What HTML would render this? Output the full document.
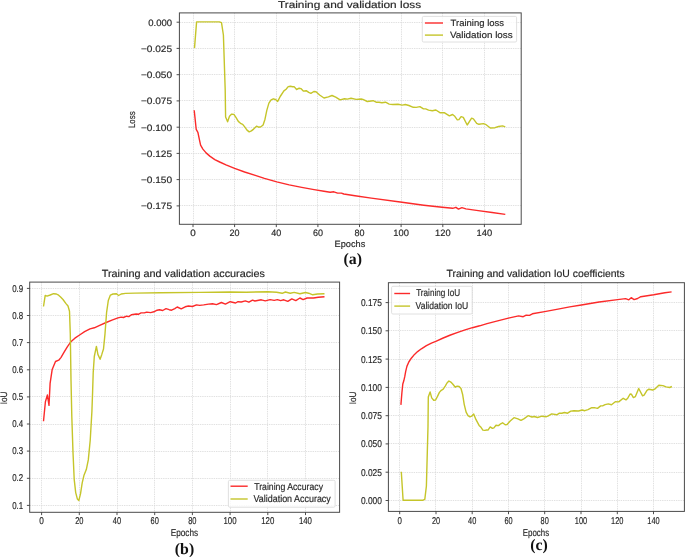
<!DOCTYPE html>
<html><head><meta charset="utf-8"><title>Training curves</title>
<style>html,body{margin:0;padding:0;background:#fff;overflow:hidden}svg{display:block;will-change:transform}text{font-family:"Liberation Sans",sans-serif;stroke:#2a2a2a;stroke-width:0.17px;text-rendering:geometricPrecision}text.cap{font-family:"Liberation Serif",serif;stroke:none}</style></head>
<body>
<svg width="685" height="557" viewBox="0 0 685 557">
<rect width="685" height="557" fill="#fff"/>
<path d="M193.5,12.9V224.3M234.5,12.9V224.3M276.5,12.9V224.3M317.5,12.9V224.3M359.5,12.9V224.3M401.5,12.9V224.3M442.5,12.9V224.3M484.5,12.9V224.3M179.4,22.5H521.2M179.4,48.5H521.2M179.4,74.5H521.2M179.4,100.5H521.2M179.4,127.5H521.2M179.4,153.5H521.2M179.4,179.5H521.2M179.4,205.5H521.2" stroke="#d9d9d9" stroke-width="0.8" stroke-dasharray="1.4 0.9" fill="none"/>
<polyline points="194.2,110.3 196.2,129.3 197.9,132.3 199.4,139.7 200.6,145.2 202.9,149.1 206.1,152.9 209.8,156.1 214.8,159.6 219.7,162.0 226.0,164.8 234.6,168.3 244.6,172.0 254.5,175.2 264.4,178.4 276.8,181.9 289.2,184.9 301.7,187.4 314.1,189.6 324.0,191.3 330.2,192.3 333.9,191.8 337.6,193.1 341.4,193.1 343.8,194.0 355.0,195.8 371.3,198.1 400.2,202.0 423.8,205.2 442.2,207.3 452.7,208.3 455.9,207.3 458.5,209.1 461.9,207.6 465.9,208.9 476.4,210.4 492.1,212.5 505.3,214.4" fill="none" stroke="#fb2a2a" stroke-width="1.4" stroke-linejoin="round" stroke-linecap="butt"/>
<polyline points="194.5,48.1 196.6,21.9 219.4,21.9 221.5,22.6 223.4,35.0 225.2,90.0 225.6,117.0 227.6,121.8 229.5,116.3 231.7,114.1 233.9,114.4 236.1,117.7 238.3,121.4 240.5,123.3 242.7,124.3 244.9,127.2 247.0,130.1 249.2,131.9 251.4,130.9 253.6,129.1 256.5,126.2 258.7,127.2 260.9,126.8 263.1,125.0 265.0,119.2 266.8,110.4 268.9,103.1 271.1,99.9 273.3,98.8 275.5,99.5 277.7,101.4 280.2,96.5 283.9,90.9 286.1,89.2 288.2,86.6 290.4,86.3 292.6,86.7 294.1,86.6 296.6,89.5 299.2,88.2 300.9,88.6 303.3,91.1 306.2,90.7 308.7,92.4 310.9,93.3 313.8,91.5 316.0,91.8 319.6,95.0 324.0,98.0 328.4,96.9 332.0,95.5 335.7,97.2 340.1,99.9 344.5,98.7 347.4,99.1 351.0,98.2 356.1,99.4 361.2,99.0 362.9,99.4 367.3,101.5 373.1,100.7 376.1,102.2 379.0,102.2 381.9,102.8 385.5,102.2 389.2,104.1 392.8,104.5 398.0,104.2 402.3,105.1 405.3,104.5 408.9,105.5 413.3,107.3 416.2,107.4 419.9,106.6 423.5,108.9 425.7,108.9 428.6,110.1 432.3,110.8 435.9,110.0 440.3,112.8 444.2,112.6 449.4,115.9 452.6,114.5 454.8,116.3 457.3,119.9 458.9,119.6 461.1,116.6 463.3,117.4 467.2,125.0 471.6,118.2 473.4,118.8 476.7,123.3 478.9,124.3 483.3,123.6 485.5,124.3 490.3,128.0 495.0,127.7 498.6,126.5 502.6,125.9 505.3,126.8" fill="none" stroke="#c5c52a" stroke-width="1.4" stroke-linejoin="round" stroke-linecap="butt"/>
<rect x="179.4" y="12.9" width="341.8" height="211.4" fill="none" stroke="#4a4a4a" stroke-width="1"/>
<path d="M193.0,224.3v2.8M234.6,224.3v2.8M276.3,224.3v2.8M317.9,224.3v2.8M359.5,224.3v2.8M401.1,224.3v2.8M442.8,224.3v2.8M484.4,224.3v2.8M179.4,22.2h-2.8M179.4,48.4h-2.8M179.4,74.7h-2.8M179.4,100.9h-2.8M179.4,127.2h-2.8M179.4,153.4h-2.8M179.4,179.6h-2.8M179.4,205.9h-2.8" stroke="#3a3a3a" stroke-width="0.9" fill="none"/>
<text x="190.2" y="236.2" font-size="9.2" text-anchor="start" fill="#262626" textLength="5.5" lengthAdjust="spacingAndGlyphs">0</text>
<text x="229.6" y="236.2" font-size="9.2" text-anchor="start" fill="#262626" textLength="10.0" lengthAdjust="spacingAndGlyphs">20</text>
<text x="271.3" y="236.2" font-size="9.2" text-anchor="start" fill="#262626" textLength="10.0" lengthAdjust="spacingAndGlyphs">40</text>
<text x="312.9" y="236.2" font-size="9.2" text-anchor="start" fill="#262626" textLength="10.0" lengthAdjust="spacingAndGlyphs">60</text>
<text x="354.5" y="236.2" font-size="9.2" text-anchor="start" fill="#262626" textLength="10.0" lengthAdjust="spacingAndGlyphs">80</text>
<text x="393.3" y="236.2" font-size="9.2" text-anchor="start" fill="#262626" textLength="15.6" lengthAdjust="spacingAndGlyphs">100</text>
<text x="435.0" y="236.2" font-size="9.2" text-anchor="start" fill="#262626" textLength="15.6" lengthAdjust="spacingAndGlyphs">120</text>
<text x="476.6" y="236.2" font-size="9.2" text-anchor="start" fill="#262626" textLength="15.6" lengthAdjust="spacingAndGlyphs">140</text>
<text x="148.3" y="25.5" font-size="9.2" text-anchor="start" fill="#262626" textLength="23.8" lengthAdjust="spacingAndGlyphs">0.000</text>
<text x="140.9" y="51.8" font-size="9.2" text-anchor="start" fill="#262626" textLength="31.2" lengthAdjust="spacingAndGlyphs">−0.025</text>
<text x="140.9" y="78.0" font-size="9.2" text-anchor="start" fill="#262626" textLength="31.2" lengthAdjust="spacingAndGlyphs">−0.050</text>
<text x="140.9" y="104.3" font-size="9.2" text-anchor="start" fill="#262626" textLength="31.2" lengthAdjust="spacingAndGlyphs">−0.075</text>
<text x="140.9" y="130.5" font-size="9.2" text-anchor="start" fill="#262626" textLength="31.2" lengthAdjust="spacingAndGlyphs">−0.100</text>
<text x="140.9" y="156.7" font-size="9.2" text-anchor="start" fill="#262626" textLength="31.2" lengthAdjust="spacingAndGlyphs">−0.125</text>
<text x="140.9" y="183.0" font-size="9.2" text-anchor="start" fill="#262626" textLength="31.2" lengthAdjust="spacingAndGlyphs">−0.150</text>
<text x="140.9" y="209.2" font-size="9.2" text-anchor="start" fill="#262626" textLength="31.2" lengthAdjust="spacingAndGlyphs">−0.175</text>
<text x="277.9" y="7.9" font-size="9.9" text-anchor="start" fill="#262626" textLength="143.2" lengthAdjust="spacingAndGlyphs">Training and validation loss</text>
<text x="334.6" y="247.1" font-size="9.2" text-anchor="start" fill="#262626" textLength="30.7" lengthAdjust="spacingAndGlyphs">Epochs</text>
<text transform="translate(135.1,119.7) rotate(-90)" font-size="9.3" text-anchor="middle" fill="#262626" textLength="16.6" lengthAdjust="spacingAndGlyphs">Loss</text>
<rect x="422.3" y="16.4" width="94.3" height="25.6" rx="1.3" fill="#fff" fill-opacity="0.8" stroke="#d8d8d8" stroke-width="0.8"/>
<path d="M424.9,23H443" stroke="#fb2a2a" stroke-width="1.4"/>
<path d="M424.9,35.1H443" stroke="#c5c52a" stroke-width="1.4"/>
<text x="450.6" y="25.9" font-size="9.2" text-anchor="start" fill="#262626" textLength="53.4" lengthAdjust="spacingAndGlyphs">Training loss</text>
<text x="449.9" y="38.0" font-size="9.2" text-anchor="start" fill="#262626" textLength="62.8" lengthAdjust="spacingAndGlyphs">Validation loss</text>
<text x="352.8" y="264.3" class="cap" font-weight="bold" font-size="15.8" text-anchor="middle" fill="#111">(a)</text>
<path d="M41.5,282.1V512.3M79.5,282.1V512.3M117.5,282.1V512.3M154.5,282.1V512.3M192.5,282.1V512.3M230.5,282.1V512.3M267.5,282.1V512.3M305.5,282.1V512.3M29.7,505.5H339.6M29.7,478.5H339.6M29.7,451.5H339.6M29.7,424.5H339.6M29.7,396.5H339.6M29.7,369.5H339.6M29.7,342.5H339.6M29.7,315.5H339.6M29.7,288.5H339.6" stroke="#d9d9d9" stroke-width="0.8" stroke-dasharray="1.4 0.9" fill="none"/>
<polyline points="43.5,421.2 45.4,401.8 47.4,395.0 49.0,405.4 50.1,383.4 52.2,369.4 55.5,361.5 58.7,360.2 60.9,357.6 64.1,352.2 67.3,346.8 70.6,342.1 74.9,338.2 79.6,335.0 84.6,331.7 90.0,328.9 94.3,327.8 99.7,325.3 106.1,322.5 112.6,319.9 118.0,317.9 121.2,317.1 123.4,317.5 126.6,316.2 128.8,316.6 131.4,314.7 136.2,314.0 138.7,314.2 141.1,312.9 144.3,312.9 146.7,312.1 150.7,312.6 153.9,311.8 157.1,310.2 159.5,309.7 162.7,310.5 166.0,308.6 169.2,309.7 171.6,310.2 174.8,308.6 177.2,307.0 181.2,308.9 185.2,306.8 188.4,306.0 192.4,306.5 196.5,304.9 199.7,305.4 203.7,304.9 208.5,304.1 212.5,303.8 216.5,304.6 221.4,302.5 225.4,304.1 230.2,301.7 235.6,303.0 238.0,301.7 241.2,302.0 245.3,300.9 248.9,302.2 252.5,300.1 254.9,301.0 261.3,299.8 265.3,300.9 270.1,299.6 274.2,300.4 277.4,299.6 280.6,300.6 283.8,299.8 287.8,301.4 291.8,298.9 295.8,300.6 299.9,298.0 303.1,299.6 307.1,298.0 313.5,298.0 318.3,297.3 324.5,296.7" fill="none" stroke="#fb2a2a" stroke-width="1.4" stroke-linejoin="round" stroke-linecap="butt"/>
<polyline points="43.5,306.5 45.2,295.4 47.0,296.1 50.2,295.0 53.6,293.7 56.4,294.0 58.6,295.2 60.6,297.0 63.0,299.5 65.8,303.4 68.0,306.0 69.5,311.2 70.3,334.0 71.0,380.0 71.8,416.3 73.0,452.6 74.2,479.3 75.7,492.6 77.4,499.1 78.8,500.6 80.5,493.8 82.2,482.9 83.9,475.6 86.3,469.6 88.3,459.9 90.2,440.5 91.9,411.5 92.6,392.0 93.2,372.7 94.3,356.5 96.4,346.4 97.9,354.4 100.1,359.3 101.8,354.4 103.5,349.0 105.0,333.9 106.6,312.3 108.3,300.5 110.4,295.1 113.0,294.0 116.5,293.8 118.6,295.5 121.2,294.0 125.5,293.4 135.0,293.1 160.0,292.8 200.0,292.4 230.0,292.0 246.1,292.2 267.7,291.7 276.6,292.2 282.2,293.3 285.4,292.0 290.2,293.2 294.2,292.4 299.9,293.8 305.5,292.5 308.7,293.2 312.7,294.8 317.5,294.0 324.5,293.7" fill="none" stroke="#c5c52a" stroke-width="1.4" stroke-linejoin="round" stroke-linecap="butt"/>
<rect x="29.7" y="282.1" width="309.9" height="230.2" fill="none" stroke="#4a4a4a" stroke-width="1"/>
<path d="M41.6,512.3v2.8M79.3,512.3v2.8M117.0,512.3v2.8M154.7,512.3v2.8M192.4,512.3v2.8M230.1,512.3v2.8M267.8,512.3v2.8M305.5,512.3v2.8M29.7,505.4h-2.8M29.7,478.3h-2.8M29.7,451.1h-2.8M29.7,424.0h-2.8M29.7,396.9h-2.8M29.7,369.8h-2.8M29.7,342.6h-2.8M29.7,315.5h-2.8M29.7,288.4h-2.8" stroke="#3a3a3a" stroke-width="0.9" fill="none"/>
<text x="39.3" y="524.1" font-size="9.9" text-anchor="start" fill="#262626" textLength="4.6" lengthAdjust="spacingAndGlyphs">0</text>
<text x="75.2" y="524.1" font-size="9.9" text-anchor="start" fill="#262626" textLength="8.3" lengthAdjust="spacingAndGlyphs">20</text>
<text x="112.8" y="524.1" font-size="9.9" text-anchor="start" fill="#262626" textLength="8.3" lengthAdjust="spacingAndGlyphs">40</text>
<text x="150.5" y="524.1" font-size="9.9" text-anchor="start" fill="#262626" textLength="8.3" lengthAdjust="spacingAndGlyphs">60</text>
<text x="188.2" y="524.1" font-size="9.9" text-anchor="start" fill="#262626" textLength="8.3" lengthAdjust="spacingAndGlyphs">80</text>
<text x="223.5" y="524.1" font-size="9.9" text-anchor="start" fill="#262626" textLength="13.1" lengthAdjust="spacingAndGlyphs">100</text>
<text x="261.2" y="524.1" font-size="9.9" text-anchor="start" fill="#262626" textLength="13.1" lengthAdjust="spacingAndGlyphs">120</text>
<text x="298.9" y="524.1" font-size="9.9" text-anchor="start" fill="#262626" textLength="13.1" lengthAdjust="spacingAndGlyphs">140</text>
<text x="12.2" y="508.5" font-size="9.9" text-anchor="start" fill="#262626" textLength="11.0" lengthAdjust="spacingAndGlyphs">0.1</text>
<text x="12.2" y="481.4" font-size="9.9" text-anchor="start" fill="#262626" textLength="11.0" lengthAdjust="spacingAndGlyphs">0.2</text>
<text x="12.2" y="454.2" font-size="9.9" text-anchor="start" fill="#262626" textLength="11.0" lengthAdjust="spacingAndGlyphs">0.3</text>
<text x="12.2" y="427.1" font-size="9.9" text-anchor="start" fill="#262626" textLength="11.0" lengthAdjust="spacingAndGlyphs">0.4</text>
<text x="12.2" y="400.0" font-size="9.9" text-anchor="start" fill="#262626" textLength="11.0" lengthAdjust="spacingAndGlyphs">0.5</text>
<text x="12.2" y="372.9" font-size="9.9" text-anchor="start" fill="#262626" textLength="11.0" lengthAdjust="spacingAndGlyphs">0.6</text>
<text x="12.2" y="345.7" font-size="9.9" text-anchor="start" fill="#262626" textLength="11.0" lengthAdjust="spacingAndGlyphs">0.7</text>
<text x="12.2" y="318.6" font-size="9.9" text-anchor="start" fill="#262626" textLength="11.0" lengthAdjust="spacingAndGlyphs">0.8</text>
<text x="12.2" y="291.5" font-size="9.9" text-anchor="start" fill="#262626" textLength="11.0" lengthAdjust="spacingAndGlyphs">0.9</text>
<text x="101.8" y="276.5" font-size="10.4" text-anchor="start" fill="#262626" textLength="163.1" lengthAdjust="spacingAndGlyphs">Training and validation accuracies</text>
<text x="170.7" y="536.3" font-size="9.9" text-anchor="start" fill="#262626" textLength="27.4" lengthAdjust="spacingAndGlyphs">Epochs</text>
<text transform="translate(6.5,397.9) rotate(-90)" font-size="9.5" text-anchor="middle" fill="#262626" textLength="12.6" lengthAdjust="spacingAndGlyphs">IoU</text>
<rect x="228.4" y="480.3" width="106.7" height="26.9" rx="1.3" fill="#fff" fill-opacity="0.8" stroke="#d8d8d8" stroke-width="0.8"/>
<path d="M230.5,486.2H247.7" stroke="#fb2a2a" stroke-width="1.4"/>
<path d="M230.5,499H247.7" stroke="#c5c52a" stroke-width="1.4"/>
<text x="254.2" y="489.6" font-size="9.9" text-anchor="start" fill="#262626" textLength="68.8" lengthAdjust="spacingAndGlyphs">Training Accuracy</text>
<text x="253.5" y="502.4" font-size="9.9" text-anchor="start" fill="#262626" textLength="77.3" lengthAdjust="spacingAndGlyphs">Validation Accuracy</text>
<text x="184.5" y="554.2" class="cap" font-weight="bold" font-size="15.8" text-anchor="middle" fill="#111">(b)</text>
<path d="M399.5,282.7V511.4M435.5,282.7V511.4M472.5,282.7V511.4M508.5,282.7V511.4M544.5,282.7V511.4M581.5,282.7V511.4M617.5,282.7V511.4M653.5,282.7V511.4M388.4,500.5H684.4M388.4,472.5H684.4M388.4,443.5H684.4M388.4,415.5H684.4M388.4,387.5H684.4M388.4,359.5H684.4M388.4,330.5H684.4M388.4,302.5H684.4" stroke="#d9d9d9" stroke-width="0.8" stroke-dasharray="1.4 0.9" fill="none"/>
<polyline points="400.9,404.9 401.9,392.8 402.8,384.0 403.8,380.8 404.8,376.4 405.7,371.4 406.9,366.4 408.8,362.0 411.3,358.2 414.5,354.4 417.6,351.6 421.4,348.8 426.4,345.7 431.4,343.1 435.8,341.3 443.2,338.0 450.5,335.0 457.8,332.4 465.1,329.9 472.4,327.7 479.7,325.8 487.0,323.6 496.7,321.1 508.4,318.1 518.6,315.9 523.2,316.7 526.2,315.2 529.5,315.4 532.4,313.8 544.6,311.6 558.0,309.1 569.7,306.9 581.4,305.0 599.1,302.0 617.6,299.6 625.6,298.6 628.8,299.8 631.2,297.7 634.1,299.6 637.6,298.5 640.8,296.7 653.7,294.8 664.9,292.8 671.6,291.9" fill="none" stroke="#fb2a2a" stroke-width="1.4" stroke-linejoin="round" stroke-linecap="butt"/>
<polyline points="401.3,471.8 403.1,500.2 423.0,500.2 424.8,499.4 426.4,486.0 428.0,426.4 428.3,397.1 430.1,391.9 431.7,397.9 433.7,400.3 435.6,400.0 437.5,396.4 439.4,392.4 441.3,390.3 443.2,389.2 445.2,386.1 447.0,383.0 448.9,381.0 450.8,382.1 452.7,384.0 455.3,387.2 457.2,386.1 459.1,386.5 461.0,388.5 462.7,394.8 464.2,404.3 466.1,412.2 468.0,415.7 469.9,416.9 471.8,416.1 473.7,414.1 475.9,419.4 479.1,425.4 481.0,427.3 482.9,430.1 484.8,430.4 486.7,430.0 488.0,430.1 490.2,426.9 492.4,428.4 493.9,427.9 496.0,425.2 498.5,425.6 500.7,423.8 502.6,422.8 505.2,424.8 507.1,424.5 510.2,421.0 514.0,417.7 517.9,418.9 521.0,420.4 524.2,418.6 528.1,415.7 531.9,417.0 534.4,416.5 537.5,417.5 542.0,416.2 546.4,416.7 547.9,416.2 551.7,413.9 556.8,414.8 559.4,413.2 561.9,413.2 564.5,412.5 567.6,413.2 570.8,411.1 573.9,410.7 578.5,411.0 582.2,410.0 584.8,410.7 588.0,409.6 591.8,407.7 594.3,407.6 597.5,408.4 600.7,405.9 602.6,405.9 605.1,404.6 608.3,403.9 611.5,404.7 615.3,401.7 618.7,401.9 623.2,398.3 626.0,399.9 627.9,397.9 630.1,394.0 631.5,394.3 633.4,397.6 635.3,396.7 638.7,388.5 642.6,395.8 644.1,395.2 647.0,390.3 648.9,389.2 652.8,390.0 654.7,389.2 658.8,385.2 662.9,385.6 666.1,386.9 669.6,387.5 671.9,386.5" fill="none" stroke="#c5c52a" stroke-width="1.4" stroke-linejoin="round" stroke-linecap="butt"/>
<rect x="388.4" y="282.7" width="296.0" height="228.7" fill="none" stroke="#4a4a4a" stroke-width="1"/>
<path d="M399.7,511.4v2.8M436.0,511.4v2.8M472.2,511.4v2.8M508.5,511.4v2.8M544.7,511.4v2.8M581.0,511.4v2.8M617.3,511.4v2.8M653.5,511.4v2.8M388.4,500.5h-2.8M388.4,472.2h-2.8M388.4,443.9h-2.8M388.4,415.7h-2.8M388.4,387.4h-2.8M388.4,359.1h-2.8M388.4,330.8h-2.8M388.4,302.6h-2.8" stroke="#3a3a3a" stroke-width="0.9" fill="none"/>
<text x="397.5" y="523.5" font-size="9.9" text-anchor="start" fill="#262626" textLength="4.4" lengthAdjust="spacingAndGlyphs">0</text>
<text x="431.9" y="523.5" font-size="9.9" text-anchor="start" fill="#262626" textLength="8.2" lengthAdjust="spacingAndGlyphs">20</text>
<text x="468.1" y="523.5" font-size="9.9" text-anchor="start" fill="#262626" textLength="8.2" lengthAdjust="spacingAndGlyphs">40</text>
<text x="504.4" y="523.5" font-size="9.9" text-anchor="start" fill="#262626" textLength="8.2" lengthAdjust="spacingAndGlyphs">60</text>
<text x="540.6" y="523.5" font-size="9.9" text-anchor="start" fill="#262626" textLength="8.2" lengthAdjust="spacingAndGlyphs">80</text>
<text x="574.8" y="523.5" font-size="9.9" text-anchor="start" fill="#262626" textLength="12.4" lengthAdjust="spacingAndGlyphs">100</text>
<text x="611.1" y="523.5" font-size="9.9" text-anchor="start" fill="#262626" textLength="12.4" lengthAdjust="spacingAndGlyphs">120</text>
<text x="647.3" y="523.5" font-size="9.9" text-anchor="start" fill="#262626" textLength="12.4" lengthAdjust="spacingAndGlyphs">140</text>
<text x="360.9" y="503.9" font-size="9.9" text-anchor="start" fill="#262626" textLength="21.0" lengthAdjust="spacingAndGlyphs">0.000</text>
<text x="360.9" y="475.6" font-size="9.9" text-anchor="start" fill="#262626" textLength="21.0" lengthAdjust="spacingAndGlyphs">0.025</text>
<text x="360.9" y="447.3" font-size="9.9" text-anchor="start" fill="#262626" textLength="21.0" lengthAdjust="spacingAndGlyphs">0.050</text>
<text x="360.9" y="419.1" font-size="9.9" text-anchor="start" fill="#262626" textLength="21.0" lengthAdjust="spacingAndGlyphs">0.075</text>
<text x="360.9" y="390.8" font-size="9.9" text-anchor="start" fill="#262626" textLength="21.0" lengthAdjust="spacingAndGlyphs">0.100</text>
<text x="360.9" y="362.5" font-size="9.9" text-anchor="start" fill="#262626" textLength="21.0" lengthAdjust="spacingAndGlyphs">0.125</text>
<text x="360.9" y="334.2" font-size="9.9" text-anchor="start" fill="#262626" textLength="21.0" lengthAdjust="spacingAndGlyphs">0.150</text>
<text x="360.9" y="306.0" font-size="9.9" text-anchor="start" fill="#262626" textLength="21.0" lengthAdjust="spacingAndGlyphs">0.175</text>
<text x="446.6" y="276.5" font-size="10.4" text-anchor="start" fill="#262626" textLength="178.0" lengthAdjust="spacingAndGlyphs">Training and validation IoU coefficients</text>
<text x="522.8" y="535.7" font-size="9.9" text-anchor="start" fill="#262626" textLength="26.3" lengthAdjust="spacingAndGlyphs">Epochs</text>
<text transform="translate(356.1,398.0) rotate(-90)" font-size="9.5" text-anchor="middle" fill="#262626" textLength="12.6" lengthAdjust="spacingAndGlyphs">IoU</text>
<rect x="391.6" y="286.3" width="80.6" height="27.7" rx="1.3" fill="#fff" fill-opacity="0.8" stroke="#d8d8d8" stroke-width="0.8"/>
<path d="M394.3,293.5H410.1" stroke="#fb2a2a" stroke-width="1.4"/>
<path d="M394.3,306.1H410.1" stroke="#c5c52a" stroke-width="1.4"/>
<text x="416.2" y="296.3" font-size="9.9" text-anchor="start" fill="#262626" textLength="44.0" lengthAdjust="spacingAndGlyphs">Training IoU</text>
<text x="415.6" y="308.9" font-size="9.9" text-anchor="start" fill="#262626" textLength="52.7" lengthAdjust="spacingAndGlyphs">Validation IoU</text>
<text x="539.1" y="550.3" class="cap" font-weight="bold" font-size="15.8" text-anchor="middle" fill="#111">(c)</text>
</svg>
</body></html>
